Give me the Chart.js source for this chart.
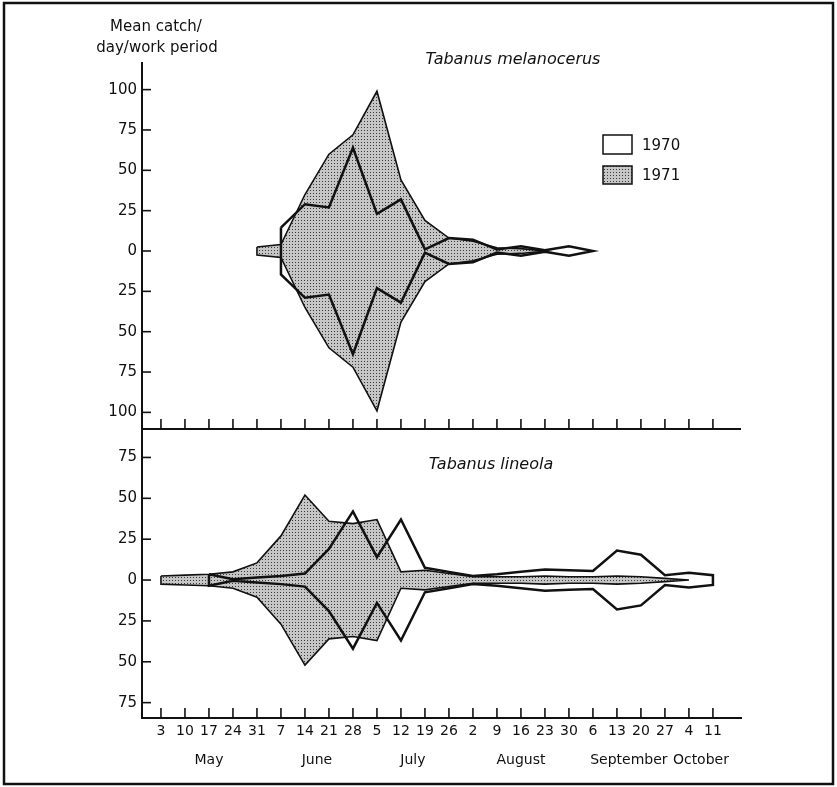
<!DOCTYPE html>
<html>
<head>
<meta charset="utf-8">
<title>Tabanus catches 1970-1971</title>
<script src="https://cdn.jsdelivr.net/npm/chart.js@4.4.1/dist/chart.umd.min.js"></script>
<style>
  html, body { margin: 0; padding: 0; background: #fff; }
  #wrap { position: relative; width: 837px; height: 787px; }
</style>
</head>
<body>
<div id="wrap"><canvas id="kites" width="837" height="787"></canvas></div>
<script>
// weekly sampling dates, 3 May to 11 October
const weekDays = ['3', '10', '17', '24', '31', '7', '14', '21', '28', '5', '12', '19', '26',
                  '2', '9', '16', '23', '30', '6', '13', '20', '27', '4', '11'];
const monthNames = ['May', 'June', 'July', 'August', 'September', 'October'];

// Tabanus melanocerus - mean catch/day/work period (null = no catch)
const melanocerus1970 = [null, null, null, null, null, 14.5, 29, 27, 64, 23, 32, 1, 8, 7, 1, 3, 0.5, 3, 0,
                         null, null, null, null, null];
const melanocerus1971 = [null, null, null, null, 2.5, 4, 35, 60, 72, 99, 44, 19, 8, 6, 2, 1.5, 0,
                         null, null, null, null, null, null, null];

// Tabanus lineola
const lineola1970 = [null, null, 3.5, 0.5, 1.5, 2.5, 4, 19, 42, 14, 37, 7.5, 5, 2.5, 3.5, 5, 6.5, 6, 5.5,
                     18, 15.5, 3, 4.5, 3];
const lineola1971 = [2.5, 3, 3.5, 5, 10.5, 27, 52, 36, 34.5, 37, 5, 6, 4, 2, 2, 2, 2.5, 2, 2, 2.5, 2, 1, 0, null];

const yearLabels = ['1970', '1971'];
const speciesNames = ['Tabanus melanocerus', 'Tabanus lineola'];

const ink = '#111';
const family = '"DejaVu Sans", sans-serif';

// Kite outline: upper edge left to right, mirrored lower edge back, closed.
function kite(values) {
    const upper = [];
    const lower = [];
    values.forEach((v, i) => {
        if (v === null) return;
        upper.push({x: i, y: v});
        lower.unshift({x: i, y: -v});
    });
    return upper.concat(lower, [upper[0]]);
}

const canvas = document.getElementById('kites');
const ctx = canvas.getContext('2d');

// Dotted grey screen used for the 1971 season
function stipple() {
    const c = document.createElement('canvas');
    c.width = 3;
    c.height = 3;
    const g = c.getContext('2d');
    g.fillStyle = '#c6c6c6';
    g.fillRect(0, 0, 3, 3);
    g.fillStyle = '#3a3a3a';
    g.fillRect(1, 1, 1, 1);
    return ctx.createPattern(c, 'repeat');
}
const screen = stipple();

// Month names centred under their weeks (a new month starts when the day number drops)
function monthCentres() {
    const groups = [];
    let cur = [];
    weekDays.forEach((d, i) => {
        if (i > 0 && Number(d) < Number(weekDays[i - 1])) {
            groups.push(cur);
            cur = [];
        }
        cur.push(i);
    });
    groups.push(cur);
    return groups.map(g => (g[0] + g[g.length - 1]) / 2);
}

function seg(x1, y1, x2, y2) {
    ctx.beginPath();
    ctx.moveTo(x1, y1);
    ctx.lineTo(x2, y2);
    ctx.stroke();
}

const decorations = {
    id: 'decorations',
    afterDraw(chart) {
        const {chartArea: a, scales} = chart;
        const x = scales.x;
        const top = scales.yTop;
        const bot = scales.yBot;
        ctx.save();
        ctx.strokeStyle = ink;
        ctx.fillStyle = ink;

        // outer frame
        ctx.lineWidth = 2.5;
        ctx.strokeRect(4, 3, 829, 781);

        // x axis of the upper panel
        ctx.lineWidth = 2;
        seg(a.left, top.bottom, a.right, top.bottom);

        // inward tick marks
        ctx.lineWidth = 1.6;
        weekDays.forEach((d, i) => {
            const px = x.getPixelForValue(i);
            seg(px, top.bottom, px, top.bottom - 10);
            seg(px, a.bottom, px, a.bottom - 10);
        });
        [top, bot].forEach(s => s.ticks.forEach(t => {
            const py = s.getPixelForValue(t.value);
            seg(a.left, py, a.left + 9, py);
        }));

        // axis title
        ctx.font = '15px ' + family;
        ctx.textAlign = 'center';
        ctx.textBaseline = 'middle';
        ctx.fillText('Mean catch/', 156, 27);
        ctx.fillText('day/work period', 157, 48);

        // month names
        ctx.font = '14px ' + family;
        monthCentres().forEach((c, i) => {
            ctx.fillText(monthNames[i], x.getPixelForValue(c), 760);
        });

        // species names
        ctx.font = 'italic 16px ' + family;
        ctx.fillText(speciesNames[0], 513, 60);
        ctx.fillText(speciesNames[1], 491, 465);

        // legend
        ctx.lineWidth = 1.5;
        ctx.fillStyle = '#fff';
        ctx.fillRect(603, 135, 29, 19);
        ctx.strokeRect(603, 135, 29, 19);
        ctx.fillStyle = screen;
        ctx.fillRect(603, 166, 29, 18);
        ctx.strokeRect(603, 166, 29, 18);
        ctx.fillStyle = ink;
        ctx.font = '15px ' + family;
        ctx.textAlign = 'left';
        ctx.fillText(yearLabels[0], 642, 146);
        ctx.fillText(yearLabels[1], 642, 176);
        ctx.restore();
    }
};

function kiteSet(values, axis, filled) {
    return {
        data: kite(values),
        yAxisID: axis,
        showLine: true,
        pointRadius: 0,
        borderColor: ink,
        borderWidth: filled ? 1.6 : 2.5,
        borderJoinStyle: 'miter',
        backgroundColor: filled ? screen : 'rgba(0,0,0,0)',
        fill: filled ? 'shape' : false,
        tension: 0
    };
}

const yTicks = {
    stepSize: 25,
    includeBounds: false,
    padding: 5,
    color: ink,
    font: {family: family, size: 15},
    callback: v => Math.abs(v)
};

new Chart(ctx, {
    type: 'scatter',
    data: {
        // 1970 outlines are listed first so they are drawn over the 1971 screen
        datasets: [
            kiteSet(melanocerus1970, 'yTop', false),
            kiteSet(lineola1970, 'yBot', false),
            kiteSet(melanocerus1971, 'yTop', true),
            kiteSet(lineola1971, 'yBot', true)
        ]
    },
    options: {
        responsive: false,
        animation: false,
        layout: {padding: {top: 63, right: 96, left: 0, bottom: 0}},
        plugins: {
            legend: {display: false},
            tooltip: {enabled: false}
        },
        scales: {
            x: {
                type: 'linear',
                min: -0.79,
                max: 24.17,
                grid: {display: false, drawTicks: false},
                border: {color: ink, width: 2},
                afterBuildTicks: s => { s.ticks = weekDays.map((d, i) => ({value: i})); },
                afterFit: s => { s.height = 69; },
                ticks: {
                    autoSkip: false,
                    maxRotation: 0,
                    padding: 5,
                    color: ink,
                    font: {family: family, size: 14},
                    callback: v => weekDays[v]
                }
            },
            yBot: {
                type: 'linear',
                position: 'left',
                stack: 'panels',
                stackWeight: 289,
                min: -84.4,
                max: 92.4,
                grid: {display: false, drawTicks: false},
                border: {color: ink, width: 2},
                afterFit: s => { s.width = 142; },
                ticks: yTicks
            },
            yTop: {
                type: 'linear',
                position: 'left',
                stack: 'panels',
                stackWeight: 366,
                min: -110.3,
                max: 116.5,
                grid: {display: false, drawTicks: false},
                border: {color: ink, width: 2},
                afterFit: s => { s.width = 142; },
                ticks: yTicks
            }
        }
    },
    plugins: [decorations]
});
</script>
</body>
</html>
